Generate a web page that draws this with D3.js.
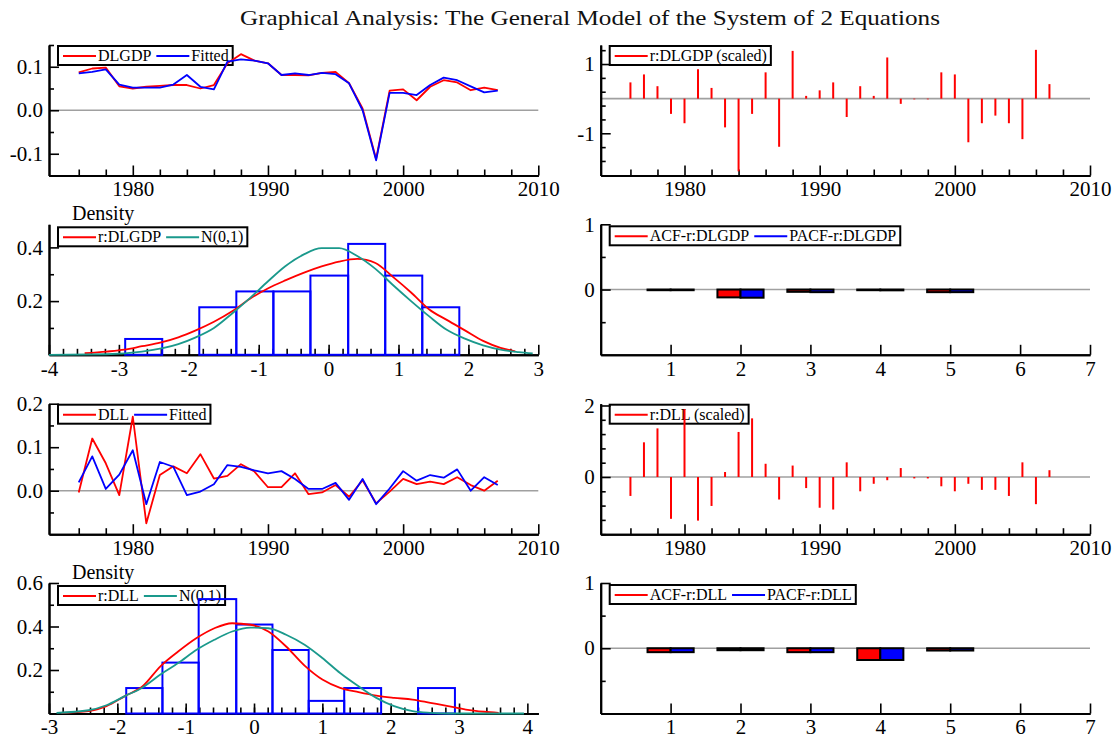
<!DOCTYPE html>
<html>
<head>
<meta charset="utf-8">
<script src="https://cdn.jsdelivr.net/npm/d3@7"></script>
<style>
  body { margin: 0; background: #fff }
  text { font-family: "Liberation Serif", "Times New Roman", serif }
</style>
</head>
<body>
<div id="chart"></div>
<script>
const title = 'Graphical Analysis: The General Model of the System of 2 Equations'

const years = [1976, 1977, 1978, 1979, 1980, 1981, 1982, 1983, 1984, 1985, 1986, 1987, 1988, 1989, 1990, 1991,
  1992, 1993, 1994, 1995, 1996, 1997, 1998, 1999, 2000, 2001, 2002, 2003, 2004, 2005, 2006, 2007]

// equation 1: DLGDP
const dlgdp = [0.087, 0.096, 0.098, 0.055, 0.050, 0.054, 0.056, 0.058, 0.058, 0.050, 0.058, 0.108, 0.129, 0.114, 0.108, 0.081,
  0.081, 0.080, 0.086, 0.088, 0.062, 0.004, -0.112, 0.045, 0.048, 0.023, 0.054, 0.069, 0.064, 0.046, 0.052, 0.046]
const fittedGdp = [0.085, 0.088, 0.094, 0.059, 0.052, 0.052, 0.052, 0.059, 0.081, 0.054, 0.048, 0.112, 0.117, 0.114, 0.108, 0.081,
  0.085, 0.081, 0.086, 0.083, 0.062, 0.000, -0.115, 0.040, 0.040, 0.035, 0.058, 0.075, 0.069, 0.055, 0.041, 0.045]
const residGdp = [0.47, 0.70, 0.36, -0.44, -0.71, 0.85, 0.31, -0.83, -2.10, -0.44, 0.76, -1.39, 1.38, 0.08, 0.24, 0.47,
  -0.53, 0.36, 0.08, 1.19, -0.15, -0.02, -0.02, 0.76, 0.70, -1.26, -0.71, -0.49, -0.71, -1.17, 1.41, 0.42]
const histGdpEdges = [-2.91, -2.38, -1.85, -1.32, -0.79, -0.26, 0.28, 0.81, 1.34, 1.87]
const histGdpDensity = [0.059, 0, 0.177, 0.236, 0.236, 0.295, 0.413, 0.295, 0.177]
const kdeGdpX = [-3.49, -3.18, -2.92, -2.67, -2.41, -2.15, -1.90, -1.64, -1.38, -1.13, -0.87, -0.62, -0.36, -0.10, 0.15, 0.41,
  0.67, 0.92, 1.18, 1.44, 1.69, 1.95, 2.21, 2.46, 2.67]
const kdeGdpY = [0.006, 0.012, 0.019, 0.032, 0.045, 0.065, 0.091, 0.123, 0.162, 0.208, 0.247, 0.277, 0.305, 0.329, 0.347, 0.357,
  0.342, 0.290, 0.232, 0.169, 0.130, 0.091, 0.052, 0.026, 0.013]
const normGdpX = [-4.0, -3.18, -2.67, -2.15, -1.90, -1.64, -1.38, -1.13, -0.87, -0.62, -0.36, -0.10, 0.15, 0.41, 0.67, 0.92,
  1.18, 1.44, 1.69, 1.95, 2.21, 2.46, 2.72, 2.92]
const normGdpY = [0.000, 0.002, 0.012, 0.040, 0.065, 0.100, 0.154, 0.210, 0.273, 0.330, 0.373, 0.397, 0.397, 0.368, 0.320, 0.260,
  0.200, 0.143, 0.093, 0.060, 0.035, 0.019, 0.010, 0.005]
const lags = [1, 2, 3, 4, 5]
const acfGdp = [-0.01, -0.12, -0.035, -0.01, -0.04]
const pacfGdp = [-0.01, -0.125, -0.04, -0.012, -0.04]

// equation 2: DLL
const dll = [-0.004, 0.120, 0.063, -0.010, 0.170, -0.075, 0.036, 0.056, 0.040, 0.084, 0.028, 0.034, 0.061, 0.044, 0.008, 0.008,
  0.040, -0.008, -0.004, 0.013, -0.014, 0.024, -0.029, -0.002, 0.027, 0.015, 0.021, 0.015, 0.031, 0.013, 0.000, 0.023]
const fittedDll = [0.019, 0.079, 0.004, 0.037, 0.093, -0.031, 0.066, 0.055, -0.010, -0.002, 0.015, 0.059, 0.055, 0.047, 0.040, 0.045,
  0.027, 0.004, 0.004, 0.018, -0.021, 0.027, -0.031, 0.005, 0.045, 0.023, 0.036, 0.030, 0.049, 0.000, 0.031, 0.013]
const residDll = [-0.53, 0.97, 1.36, -1.17, 1.90, -1.22, -0.81, 0.14, 1.26, 1.64, 0.37, -0.63, 0.32, -0.31, -0.86, -0.91,
  0.41, -0.40, -0.19, -0.09, 0.25, -0.04, -0.04, -0.26, -0.40, -0.19, -0.36, -0.36, -0.53, 0.41, -0.76, 0.19]
const histDllEdges = [-1.87, -1.34, -0.81, -0.26, 0.27, 0.80, 1.32, 1.86, 2.40, 2.94]
const histDllDensity = [0.117, 0.234, 0.526, 0.409, 0.292, 0.058, 0.117, 0, 0.117]
const kdeDllX = [-2.82, -2.42, -2.16, -1.89, -1.63, -1.37, -1.11, -0.84, -0.58, -0.32, -0.05, 0.21, 0.47, 0.74, 1.00, 1.26,
  1.53, 1.79, 2.05, 2.32, 2.58, 2.84, 3.10, 3.37, 3.58]
const kdeDllY = [0.003, 0.011, 0.034, 0.080, 0.125, 0.217, 0.285, 0.347, 0.392, 0.415, 0.408, 0.377, 0.308, 0.220, 0.156, 0.118,
  0.098, 0.082, 0.072, 0.064, 0.049, 0.034, 0.018, 0.008, 0.003]
const normDllX = [-2.89, -2.42, -2.16, -1.89, -1.63, -1.37, -1.11, -0.84, -0.58, -0.32, -0.05, 0.21, 0.47, 0.74, 1.00, 1.26,
  1.53, 1.79, 2.05, 2.32, 2.58, 2.84, 3.95]
const normDllY = [0.003, 0.015, 0.038, 0.080, 0.120, 0.179, 0.232, 0.293, 0.339, 0.377, 0.395, 0.392, 0.362, 0.316, 0.255, 0.186,
  0.125, 0.072, 0.034, 0.011, 0.003, 0.000, 0.000]
const acfDll = [-0.06, -0.03, -0.06, -0.18, -0.035]
const pacfDll = [-0.06, -0.03, -0.06, -0.18, -0.035]

// tick values
const yearMajor = [1980, 1990, 2000, 2010]
const yearMinor = [1976, 1978, 1982, 1984, 1986, 1988, 1992, 1994, 1996, 1998, 2002, 2004, 2006, 2008]

const RED = '#ff0000'
const BLUE = '#0000ff'
const TEAL = '#1a998c'

const width = 1119
const height = 740
const colX = [[49, 538.3], [600.7, 1090]]
const rowTop = [45, 224.3, 403.7, 583]
const rowH = 130.5

const svg = d3.select('#chart').append('svg')
  .attr('width', width)
  .attr('height', height)

svg.append('rect').attr('width', width).attr('height', height).attr('fill', '#fff')

svg.append('text')
  .attr('x', 590)
  .attr('y', 25)
  .attr('text-anchor', 'middle')
  .attr('font-size', 21)
  .attr('textLength', 700)
  .attr('lengthAdjust', 'spacingAndGlyphs')
  .attr('fill', '#111')
  .text(title)

const hyphen = f => d => f(d).replace('\u2212', '-')
const fmt1 = hyphen(d3.format('.1f'))
const fmtInt = hyphen(d3.format('d'))

function frame(col, row, xDomain, yDomain) {
  const x = d3.scaleLinear().domain(xDomain).range(colX[col])
  const y = d3.scaleLinear().domain(yDomain).range([rowTop[row] + rowH, rowTop[row]])
  const g = svg.append('g')
  return { x, y, g }
}

function styleAxis(sel) {
  sel.selectAll('.domain').attr('stroke', '#000').attr('stroke-width', 2)
  sel.selectAll('.tick line').attr('stroke', '#000').attr('stroke-width', 1.6)
  sel.selectAll('text')
    .attr('font-family', '"Liberation Serif", "Times New Roman", serif')
    .attr('font-size', 21)
    .attr('fill', '#000')
}

function drawAxes({ x, y, g }, o) {
  const bottom = y.range()[0]
  const left = x.range()[0]

  g.append('g').attr('transform', `translate(0,${bottom})`)
    .call(d3.axisBottom(x).tickValues(o.xMinor).tickSize(-6).tickSizeOuter(0).tickFormat(''))
    .call(styleAxis)
  g.append('g').attr('transform', `translate(0,${bottom})`)
    .call(d3.axisBottom(x).tickValues(o.xMajor).tickSize(-10).tickSizeOuter(0).tickPadding(6).tickFormat(o.xFmt))
    .call(styleAxis)

  g.append('g').attr('transform', `translate(${left},0)`)
    .call(d3.axisLeft(y).tickValues(o.yMinor).tickSize(-5).tickSizeOuter(0).tickFormat(''))
    .call(styleAxis)
  g.append('g').attr('transform', `translate(${left},0)`)
    .call(d3.axisLeft(y).tickValues(o.yMajor).tickSize(-10).tickSizeOuter(0).tickPadding(6).tickFormat(o.yFmt))
    .call(styleAxis)
}

function zeroLine({ x, y, g }) {
  g.append('line')
    .attr('x1', x.range()[0]).attr('x2', x.range()[1])
    .attr('y1', y(0)).attr('y2', y(0))
    .attr('stroke', '#a0a0a0')
    .attr('stroke-width', 1.6)
}

function legend({ x, y, g }, items, dy) {
  const x0 = x.range()[0] + 9
  const y0 = y.range()[1] + dy
  const lg = g.append('g')
  let cx = x0 + 5
  items.forEach(it => {
    lg.append('line')
      .attr('x1', cx).attr('x2', cx + 33)
      .attr('y1', y0 + 10).attr('y2', y0 + 10)
      .attr('stroke', it.color)
      .attr('stroke-width', 2)
    const t = lg.append('text')
      .attr('x', cx + 35)
      .attr('y', y0 + 15)
      .attr('font-size', 16)
      .attr('fill', '#000')
      .text(it.label)
    cx += 35 + t.node().getComputedTextLength() + 5
  })
  lg.append('rect')
    .attr('x', x0).attr('y', y0)
    .attr('width', cx - x0 - 1).attr('height', 19)
    .attr('fill', 'none')
    .attr('stroke', '#000')
    .attr('stroke-width', 2)
}

function drawLine({ x, y, g }, xs, ys, color, curve) {
  const line = d3.line()
    .x(d => x(d[0]))
    .y(d => y(d[1]))
    .curve(curve || d3.curveLinear)
  g.append('path')
    .datum(d3.zip(xs, ys))
    .attr('d', line)
    .attr('fill', 'none')
    .attr('stroke', color)
    .attr('stroke-width', 1.8)
    .attr('stroke-linejoin', 'round')
}

function timePanel(col, row, yDomain, yMajor, yMinor, actual, fitted, labels) {
  const p = frame(col, row, [1973.8, 2010], yDomain)
  zeroLine(p)
  drawAxes(p, { xMajor: yearMajor, xMinor: yearMinor, xFmt: fmtInt, yMajor, yMinor, yFmt: fmt1 })
  legend(p, [{ label: labels[0], color: RED }, { label: labels[1], color: BLUE }], 1)
  drawLine(p, years, actual, RED)
  drawLine(p, years, fitted, BLUE)
}

function residPanel(col, row, yDomain, yMajor, yMinor, resid, label) {
  const p = frame(col, row, [1973.8, 2010], yDomain)
  zeroLine(p)
  drawAxes(p, { xMajor: yearMajor, xMinor: yearMinor, xFmt: fmtInt, yMajor, yMinor, yFmt: fmtInt })
  legend(p, [{ label, color: RED }], 1)
  p.g.append('g').selectAll('line')
    .data(d3.zip(years, resid))
    .join('line')
    .attr('x1', d => p.x(d[0])).attr('x2', d => p.x(d[0]))
    .attr('y1', p.y(0)).attr('y2', d => p.y(d[1]))
    .attr('stroke', RED)
    .attr('stroke-width', 2)
}

function histPanel(col, row, xDomain, yDomain, xMajor, xMinor, yMajor, yMinor, edges, dens, kx, ky, nx, ny, label) {
  const p = frame(col, row, xDomain, yDomain)
  drawAxes(p, { xMajor, xMinor, xFmt: fmtInt, yMajor, yMinor, yFmt: fmt1 })
  svg.append('text')
    .attr('x', 72)
    .attr('y', rowTop[row] - 4)
    .attr('font-size', 20)
    .attr('fill', '#000')
    .text('Density')
  legend(p, [{ label, color: RED }, { label: 'N(0,1)', color: TEAL }], 3)
  const bins = dens.map((d, i) => ({ x0: edges[i], x1: edges[i + 1], d })).filter(b => b.d > 0)
  p.g.append('g').selectAll('rect')
    .data(bins)
    .join('rect')
    .attr('x', b => p.x(b.x0))
    .attr('width', b => p.x(b.x1) - p.x(b.x0))
    .attr('y', b => p.y(b.d))
    .attr('height', b => p.y(0) - p.y(b.d))
    .attr('fill', 'none')
    .attr('stroke', BLUE)
    .attr('stroke-width', 2)
  drawLine(p, kx, ky, RED, d3.curveMonotoneX)
  drawLine(p, nx, ny, TEAL, d3.curveMonotoneX)
}

function acfPanel(col, row, acf, pacf, labels) {
  const p = frame(col, row, [0, 7], [-1, 1])
  zeroLine(p)
  drawAxes(p, {
    xMajor: [1, 2, 3, 4, 5, 6, 7], xMinor: [], xFmt: fmtInt,
    yMajor: [0, 1], yMinor: [-0.5, 0.5], yFmt: fmtInt
  })
  legend(p, [{ label: labels[0], color: RED }, { label: labels[1], color: BLUE }], 2)
  const half = 0.33
  const bars = lags.flatMap((lag, i) => [
    { a: lag - half, b: lag, v: acf[i], color: RED },
    { a: lag, b: lag + half, v: pacf[i], color: BLUE }
  ])
  p.g.append('g').selectAll('rect')
    .data(bars)
    .join('rect')
    .attr('x', d => p.x(d.a))
    .attr('width', d => p.x(d.b) - p.x(d.a))
    .attr('y', d => Math.min(p.y(0), p.y(d.v)))
    .attr('height', d => Math.abs(p.y(d.v) - p.y(0)))
    .attr('fill', d => d.color)
    .attr('stroke', '#000')
    .attr('stroke-width', 2)
}

timePanel(0, 0, [-0.15, 0.15], [-0.1, 0, 0.1], [-0.15, -0.05, 0.05, 0.15], dlgdp, fittedGdp, ['DLGDP', 'Fitted'])
residPanel(1, 0, [-2.22, 1.55], [-1, 1], [-1.8, -1.4, -0.6, -0.2, 0.2, 0.6, 1.4], residGdp, 'r:DLGDP (scaled)')
histPanel(0, 1, [-4, 3], [0, 0.486], d3.range(-4, 4), d3.range(-3.8, 3, 0.2), [0.2, 0.4], [0.1, 0.3],
  histGdpEdges, histGdpDensity, kdeGdpX, kdeGdpY, normGdpX, normGdpY, 'r:DLGDP')
acfPanel(1, 1, acfGdp, pacfGdp, ['ACF-r:DLGDP', 'PACF-r:DLGDP'])

timePanel(0, 2, [-0.1, 0.2], [0, 0.1, 0.2], [-0.05, 0.05, 0.15], dll, fittedDll, ['DLL', 'Fitted'])
residPanel(1, 2, [-1.6, 2.05], [0, 2], [-1.6, -1.2, -0.8, -0.4, 0.4, 0.8, 1.2, 1.6], residDll, 'r:DLL (scaled)')
histPanel(0, 3, [-3, 4.16], [0, 0.6], d3.range(-3, 5), d3.range(-2.8, 4, 0.2), [0.2, 0.4, 0.6], [0.1, 0.3, 0.5],
  histDllEdges, histDllDensity, kdeDllX, kdeDllY, normDllX, normDllY, 'r:DLL')
acfPanel(1, 3, acfDll, pacfDll, ['ACF-r:DLL', 'PACF-r:DLL'])
</script>
</body>
</html>
